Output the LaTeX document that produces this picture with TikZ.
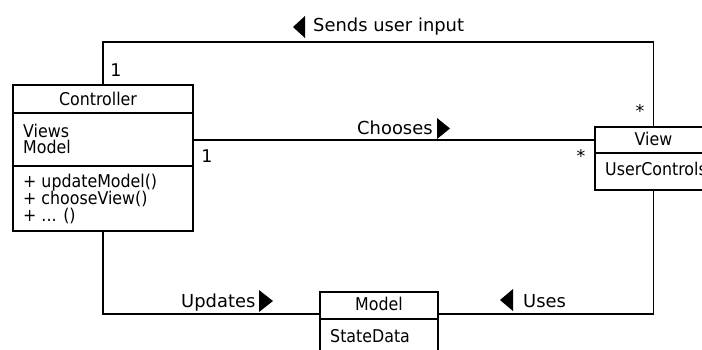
\documentclass[tikz,border=0pt]{standalone}
\usepackage{fontspec}
\setmainfont{DejaVu Sans}
\newfontfamily\condfont{DejaVu Sans Condensed}
\begin{document}
\begin{tikzpicture}[x=1pt,y=-1pt,
  box/.style={draw, line width=1.8pt, inner sep=0pt, outer sep=0pt, anchor=north west},
  divider/.style={line width=1.8pt},
  conn/.style={line width=1.8pt},
  boxtext/.style={inner sep=0pt, font=\condfont\fontsize{17.6}{18}\selectfont},
  lbl/.style={inner sep=0pt, anchor=base west, font=\fontsize{17.9}{18}\selectfont},
  mult/.style={inner sep=0pt, anchor=base, font=\fontsize{17.5}{18}\selectfont},
  tri/.style={fill=black}]
\useasboundingbox (0,0) rectangle (702,349);
% class boxes
\node[box, minimum width=180pt, minimum height=146pt] (ctrl) at (13,85) {};
\node[box, minimum width=117pt, minimum height=63pt] (view) at (595,127) {};
\node[box, minimum width=118pt, minimum height=90pt] (model) at (320,292) {};
% dividers
\draw[divider] (ctrl.west |- 0,113) -- (ctrl.east |- 0,113);
\draw[divider] (ctrl.west |- 0,166) -- (ctrl.east |- 0,166);
\draw[divider] (view.west |- 0,153) -- (view.east |- 0,153);
\draw[divider] (model.west |- 0,319) -- (model.east |- 0,319);
% box texts
\node[boxtext, anchor=base] (ctrltitle) at (98,105) {Controller};
\node[boxtext, anchor=base west] (ctrlatt1) at (23,137) {Views};
\node[boxtext, anchor=base west] (ctrlatt2) at (23,153) {Model};
\node[boxtext, anchor=base west] (ctrlop1) at (23,187) {+ updateModel()};
\node[boxtext, anchor=base west] (ctrlop2) at (23,204) {+ chooseView()};
\node[boxtext, anchor=base west] (ctrlop3) at (23,221) {+ ... ()};
\node[boxtext, anchor=base] (viewtitle) at (653.5,145) {View};
\node[boxtext, anchor=base west] (viewatt) at (605,175) {UserControls};
\node[boxtext, anchor=base] (modeltitle) at (379,310) {Model};
\node[boxtext, anchor=base west] (modelatt) at (330,342) {StateData};
% connectors
\draw[conn] (ctrl.north) -- (ctrl.north |- 0,42) -| (view.north);
\draw[conn] (ctrl.east |- 0,140) -- (view.west |- 0,140);
\draw[conn] (ctrl.south) |- (model.west |- 0,314);
\draw[conn] (model.east |- 0,314) -| (view.south);
% multiplicities
\node[mult] (m1) at (116,76) {1};
\node[mult] (m2) at (640,117) {*};
\node[mult] (m3) at (207,162) {1};
\node[mult] (m4) at (581,162) {*};
% association labels
\node[lbl] (sends) at (313,31) {Sends user input};
\fill[tri] (293,27) -- (305,16) -- (305,38) -- cycle;
\node[lbl] (chooses) at (357,134) {Chooses};
\fill[tri] (437,118) -- (450,128.5) -- (437,139) -- cycle;
\node[lbl] (updates) at (181,307) {Updates};
\fill[tri] (259,290) -- (273,301) -- (259,312) -- cycle;
\node[lbl] (uses) at (523,307) {Uses};
\fill[tri] (500,300) -- (513,289) -- (513,311) -- cycle;
\end{tikzpicture}
\end{document}
